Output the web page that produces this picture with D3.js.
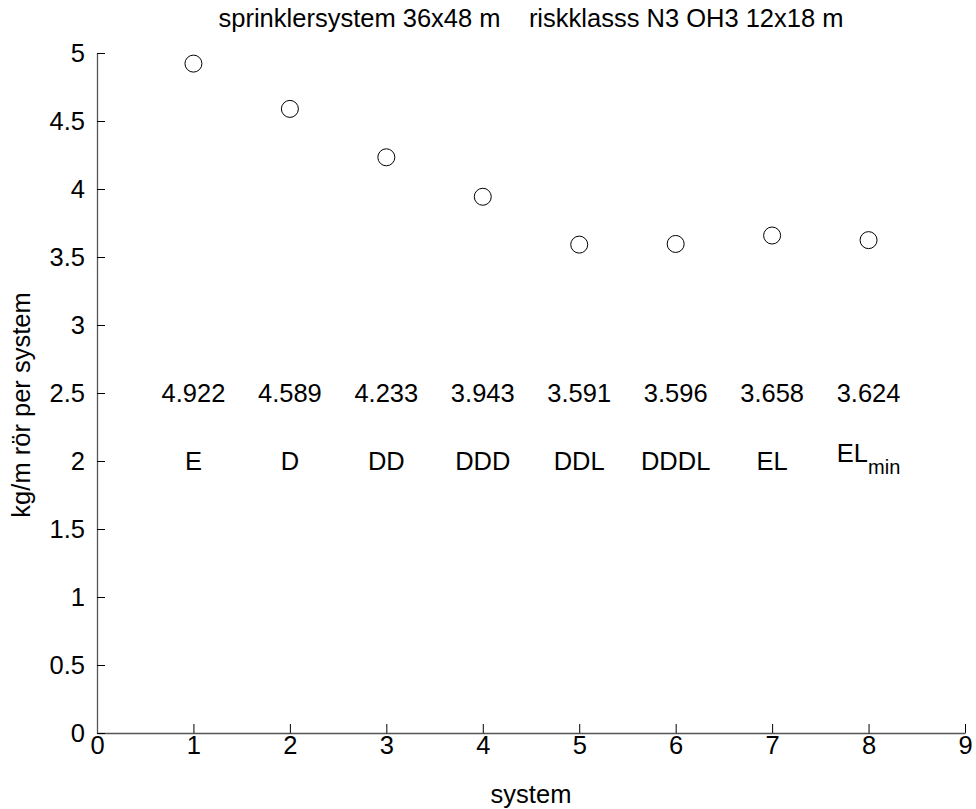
<!DOCTYPE html>
<html>
<head>
<meta charset="utf-8">
<script src="https://cdn.jsdelivr.net/npm/d3@7"></script>
<style>
  body { margin: 0; background: #fff; }
  text { font-family: "Liberation Sans", Arial, sans-serif; fill: #000; }
</style>
</head>
<body>
<div id="chart"></div>
<script>
// data
var systems = [1, 2, 3, 4, 5, 6, 7, 8];
var values = [4.922, 4.589, 4.233, 3.943, 3.591, 3.596, 3.658, 3.624];
var names = ["E", "D", "DD", "DDD", "DDL", "DDDL", "EL", "EL"];
var subscripts = ["", "", "", "", "", "", "", "min"];
var xTicks = [0, 1, 2, 3, 4, 5, 6, 7, 8, 9];
var yTicks = [0, 0.5, 1, 1.5, 2, 2.5, 3, 3.5, 4, 4.5, 5];
var valueRowY = 2.5;
var nameRowY = 2;

var width = 976, height = 809;
var margin = {left: 97, right: 11, top: 53, bottom: 76};
var fs = "25.5px";

var svg = d3.select("#chart").append("svg")
    .attr("width", width)
    .attr("height", height);

var x = d3.scaleLinear().domain([0, 9]).range([margin.left, width - margin.right]);
var y = d3.scaleLinear().domain([0, 5]).range([height - margin.bottom, margin.top]);

// x axis, ticks pointing inward like matlab
var xAxis = svg.append("g")
    .attr("transform", "translate(0," + y(0) + ")")
    .call(d3.axisBottom(x).tickValues(xTicks).tickFormat(d3.format("d"))
        .tickSizeInner(-9).tickSizeOuter(0).tickPadding(3));

var yAxis = svg.append("g")
    .attr("transform", "translate(" + x(0) + ",0)")
    .call(d3.axisLeft(y).tickValues(yTicks).tickFormat(function(d) { return d; })
        .tickSizeInner(-8).tickSizeOuter(0).tickPadding(12));

[xAxis, yAxis].forEach(function(a) {
    a.select(".domain").attr("stroke", "#555").attr("stroke-width", 1.3);
    a.selectAll(".tick line").attr("stroke", "#000");
    a.selectAll(".tick text").style("font-size", fs).attr("fill", "#000");
});
xAxis.selectAll(".tick text").attr("dy", "0.72em");
yAxis.selectAll(".tick text").attr("dy", "0.35em");

// markers
svg.selectAll(".pt")
    .data(values)
    .enter().append("circle")
    .attr("class", "pt")
    .attr("cx", function(d, i) { return x(systems[i]); })
    .attr("cy", function(d) { return y(d); })
    .attr("r", 8.5)
    .attr("fill", "none")
    .attr("stroke", "#000")
    .attr("stroke-width", 1);

// value labels
svg.selectAll(".val")
    .data(values)
    .enter().append("text")
    .attr("class", "val")
    .attr("x", function(d, i) { return x(systems[i]); })
    .attr("y", y(valueRowY))
    .attr("dy", "0.35em")
    .attr("text-anchor", "middle")
    .style("font-size", fs)
    .text(function(d) { return d3.format(".3f")(d); });

// system names, the last one has a subscript
var nm = svg.selectAll(".name")
    .data(names)
    .enter().append("text")
    .attr("class", "name")
    .attr("x", function(d, i) { return x(systems[i]); })
    .attr("y", function(d, i) { return y(nameRowY) + (subscripts[i] ? -8 : 0); })
    .attr("dy", "0.35em")
    .attr("text-anchor", "middle")
    .style("font-size", fs);
nm.append("tspan").text(function(d) { return d; });
nm.append("tspan")
    .attr("dy", 12)
    .style("font-size", "20px")
    .text(function(d, i) { return subscripts[i]; });

// title and axis labels
svg.append("text")
    .attr("x", (x(0) + x(9)) / 2)
    .attr("y", 27)
    .attr("text-anchor", "middle")
    .style("font-size", fs)
    .style("white-space", "pre")
    .attr("xml:space", "preserve")
    .text("sprinklersystem 36x48 m    riskklasss N3 OH3 12x18 m");

svg.append("text")
    .attr("x", (x(0) + x(9)) / 2)
    .attr("y", 803)
    .attr("text-anchor", "middle")
    .style("font-size", fs)
    .text("system");

svg.append("text")
    .attr("transform", "translate(30," + ((y(0) + y(5)) / 2 + 12) + ") rotate(-90)")
    .attr("text-anchor", "middle")
    .style("font-size", fs)
    .text("kg/m rör per system");
</script>
</body>
</html>
